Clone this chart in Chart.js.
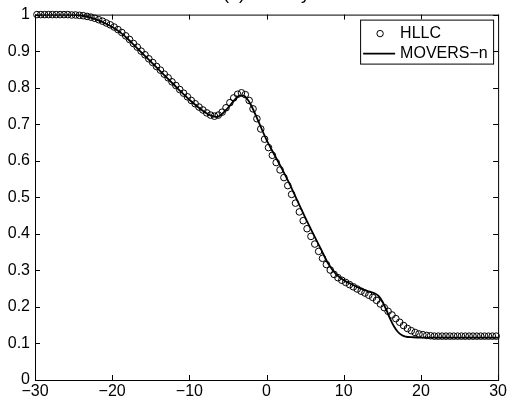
<!DOCTYPE html>
<html>
<head>
<meta charset="utf-8">
<script src="https://cdn.jsdelivr.net/npm/chart.js@4.4.1/dist/chart.umd.min.js"></script>
<style>
  body { margin: 0; background: #fff; }
  canvas { display: block; }
</style>
</head>
<body>
<canvas id="densityChart" width="509" height="403"></canvas>
<script>
// axis ticks
const xTicks = [-30, -20, -10, 0, 10, 20, 30];
const xTickLabels = ['\u221230', '\u221220', '\u221210', '0', '10', '20', '30'];
const yTicks = [0, 0.1, 0.2, 0.3, 0.4, 0.5, 0.6, 0.7, 0.8, 0.9, 1];
const yTickLabels = ['0', '0.1', '0.2', '0.3', '0.4', '0.5', '0.6', '0.7', '0.8', '0.9', '1'];

// HLLC (cell centres)
const hllcX = [
  -29.75, -29.25, -28.75, -28.25, -27.75, -27.25, -26.75, -26.25, -25.75, -25.25,
  -24.75, -24.25, -23.75, -23.25, -22.75, -22.25, -21.75, -21.25, -20.75, -20.25,
  -19.75, -19.25, -18.75, -18.25, -17.75, -17.25, -16.75, -16.25, -15.75, -15.25,
  -14.75, -14.25, -13.75, -13.25, -12.75, -12.25, -11.75, -11.25, -10.75, -10.25,
  -9.75, -9.25, -8.75, -8.25, -7.75, -7.25, -6.75, -6.25, -5.75, -5.25,
  -4.75, -4.25, -3.75, -3.25, -2.75, -2.25, -1.75, -1.25, -0.75, -0.25,
  0.25, 0.75, 1.25, 1.75, 2.25, 2.75, 3.25, 3.75, 4.25, 4.75,
  5.25, 5.75, 6.25, 6.75, 7.25, 7.75, 8.25, 8.75, 9.25, 9.75,
  10.25, 10.75, 11.25, 11.75, 12.25, 12.75, 13.25, 13.75, 14.25, 14.75,
  15.25, 15.75, 16.25, 16.75, 17.25, 17.75, 18.25, 18.75, 19.25, 19.75,
  20.25, 20.75, 21.25, 21.75, 22.25, 22.75, 23.25, 23.75, 24.25, 24.75,
  25.25, 25.75, 26.25, 26.75, 27.25, 27.75, 28.25, 28.75, 29.25, 29.75
];
const hllcY = [
  1.0, 1.0, 1.0, 1.0, 1.0, 1.0, 1.0, 1.0, 1.0, 0.999,
  0.999, 0.998, 0.997, 0.995, 0.993, 0.990, 0.986, 0.982, 0.977, 0.972,
  0.966, 0.959, 0.951, 0.942, 0.932, 0.921, 0.911, 0.900, 0.890, 0.879,
  0.869, 0.858, 0.848, 0.837, 0.827, 0.816, 0.806, 0.795, 0.785, 0.775,
  0.765, 0.756, 0.747, 0.739, 0.731, 0.725, 0.722, 0.725, 0.733, 0.745,
  0.759, 0.772, 0.782, 0.786, 0.781, 0.765, 0.742, 0.715, 0.687, 0.659,
  0.636, 0.615, 0.595, 0.575, 0.554, 0.532, 0.508, 0.484, 0.460, 0.436,
  0.414, 0.393, 0.372, 0.352, 0.333, 0.316, 0.301, 0.289, 0.280, 0.273,
  0.267, 0.261, 0.255, 0.249, 0.243, 0.238, 0.232, 0.226, 0.218, 0.208,
  0.198, 0.188, 0.178, 0.168, 0.158, 0.149, 0.141, 0.135, 0.130, 0.126,
  0.124, 0.122, 0.121, 0.120, 0.120, 0.120, 0.120, 0.120, 0.120, 0.120,
  0.120, 0.120, 0.120, 0.120, 0.120, 0.120, 0.120, 0.120, 0.120, 0.120
];

// MOVERS-n
const moversX = [
  -30, -26, -25, -24, -23, -22, -21, -20, -19, -18, -17, -16, -15, -14, -13, -12, -11, -10,
  -9, -8, -7, -6.5, -6, -5, -4, -3.5, -3, -2.5, -2, -1, 0, 1, 2, 3, 4, 5, 6, 7, 8, 9,
  10, 11, 12, 13, 14, 14.5, 15, 15.5, 16, 16.5, 17, 17.5, 18, 19, 20, 30
];
const moversY = [
  1.0, 1.0, 0.999, 0.997, 0.993, 0.986, 0.977, 0.966, 0.952, 0.934, 0.913, 0.892, 0.871, 0.850, 0.829, 0.808, 0.787, 0.767,
  0.749, 0.733, 0.722, 0.720, 0.724, 0.745, 0.770, 0.778, 0.778, 0.769, 0.752, 0.705, 0.657, 0.617, 0.578, 0.536, 0.490, 0.445, 0.402, 0.360, 0.318, 0.290,
  0.273, 0.262, 0.252, 0.244, 0.237, 0.230, 0.215, 0.193, 0.168, 0.147, 0.132, 0.123, 0.119, 0.117, 0.116, 0.116
];

const FONT = 'Liberation Sans, Arial, Helvetica, sans-serif';

// box, inward ticks, legend and the clipped title
const axesDecor = {
  id: 'axesDecor',
  afterDraw(chart) {
    const { ctx, chartArea: a, scales: { x, y } } = chart;
    ctx.save();
    ctx.strokeStyle = '#000';
    ctx.lineWidth = 1;
    ctx.strokeRect(a.left + 0.5, a.top + 0.5, a.right - a.left, a.bottom - a.top);

    const len = 5;
    ctx.beginPath();
    xTicks.forEach(v => {
      const px = Math.round(x.getPixelForValue(v)) + 0.5;
      ctx.moveTo(px, a.bottom); ctx.lineTo(px, a.bottom - len);
      ctx.moveTo(px, a.top); ctx.lineTo(px, a.top + len);
    });
    yTicks.forEach(v => {
      const py = Math.round(y.getPixelForValue(v)) + 0.5;
      ctx.moveTo(a.left, py); ctx.lineTo(a.left + len, py);
      ctx.moveTo(a.right, py); ctx.lineTo(a.right - len, py);
    });
    ctx.stroke();

    // legend
    const lx = a.right - 138, ly = a.top + 5, lw = 133, lh = 44;
    ctx.fillStyle = '#fff';
    ctx.fillRect(lx, ly, lw, lh);
    ctx.strokeRect(lx + 0.5, ly + 0.5, lw, lh);
    ctx.beginPath();
    ctx.arc(lx + 20, ly + 14, 3.2, 0, Math.PI * 2);
    ctx.lineWidth = 1;
    ctx.stroke();
    ctx.beginPath();
    ctx.moveTo(lx + 3, ly + 34);
    ctx.lineTo(lx + 35, ly + 34);
    ctx.lineWidth = 1.8;
    ctx.stroke();
    ctx.fillStyle = '#000';
    ctx.font = '16px ' + FONT;
    ctx.textBaseline = 'middle';
    ctx.textAlign = 'left';
    ctx.fillText(chart.data.datasets[1].label, lx + 40, ly + 14);
    ctx.fillText(chart.data.datasets[0].label, lx + 40, ly + 34);

    // title, mostly above the canvas
    ctx.font = '18px ' + FONT;
    ctx.textAlign = 'center';
    ctx.textBaseline = 'alphabetic';
    ctx.fillText('(a) Density', (a.left + a.right) / 2, -1);
    ctx.restore();
  }
};

const ctx = document.getElementById('densityChart').getContext('2d');
new Chart(ctx, {
  type: 'scatter',
  data: {
    datasets: [{
      label: 'MOVERS\u2212n',
      data: moversX.map((v, i) => ({ x: v, y: moversY[i] })),
      showLine: true,
      borderColor: '#000',
      borderWidth: 1.8,
      pointRadius: 0,
      cubicInterpolationMode: 'monotone',
      order: 0
    }, {
      label: 'HLLC',
      data: hllcX.map((v, i) => ({ x: v, y: hllcY[i] })),
      showLine: false,
      pointStyle: 'circle',
      pointRadius: 3.3,
      pointBorderWidth: 1,
      pointBorderColor: '#000',
      pointBackgroundColor: 'rgba(0,0,0,0)',
      clip: 6,
      order: 1
    }]
  },
  options: {
    responsive: false,
    animation: false,
    devicePixelRatio: 1,
    layout: { padding: { top: 14, right: 10, left: 0, bottom: 0 } },
    plugins: {
      legend: { display: false },
      tooltip: { enabled: false }
    },
    scales: {
      x: {
        type: 'linear',
        min: -30,
        max: 30,
        afterBuildTicks: s => { s.ticks = xTicks.map(v => ({ value: v })); },
        afterFit: s => { s.height = 23; },
        grid: { display: false, drawTicks: false },
        border: { display: false },
        ticks: {
          color: '#000',
          padding: 2,
          maxRotation: 0,
          autoSkip: false,
          font: { family: FONT, size: 16 },
          callback: v => xTickLabels[xTicks.indexOf(v)]
        }
      },
      y: {
        type: 'linear',
        min: 0,
        max: 1,
        afterBuildTicks: s => { s.ticks = yTicks.map(v => ({ value: v })); },
        afterFit: s => { s.width = 35; },
        grid: { display: false, drawTicks: false },
        border: { display: false },
        ticks: {
          color: '#000',
          padding: 5,
          autoSkip: false,
          font: { family: FONT, size: 16 },
          callback: v => yTickLabels[yTicks.indexOf(v)]
        }
      }
    }
  },
  plugins: [axesDecor]
});
</script>
</body>
</html>
